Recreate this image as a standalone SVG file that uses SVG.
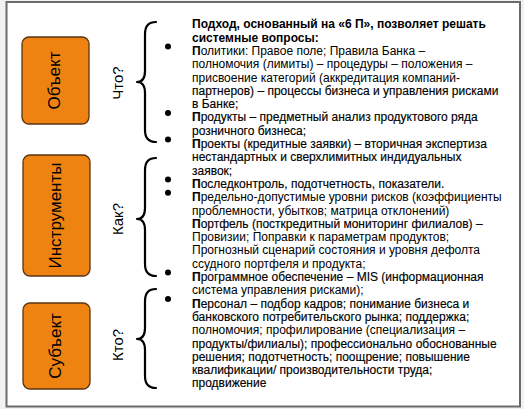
<svg xmlns="http://www.w3.org/2000/svg" width="524" height="409" viewBox="0 0 524 409">
<style>
.box{fill:#EF8312;stroke:#5a3510;stroke-width:1.3}
.bl{font-family:"Liberation Sans",Arial,sans-serif;font-size:17px;fill:#000;text-anchor:middle}
.q{font-family:"Liberation Sans",Arial,sans-serif;font-size:15px;fill:#000;text-anchor:middle}
.br{fill:none;stroke:#000;stroke-width:2.2;stroke-linecap:round;stroke-linejoin:round}
.t{font-family:"Liberation Sans",Arial,sans-serif;font-size:12px;fill:#000}
.h{stroke:#000;stroke-width:0.15}
.b{font-weight:bold}
.dot{fill:#000}
</style>
<rect x="0" y="0" width="524" height="409" fill="#f2f2f2"/>
<rect x="6.5" y="2" width="513.5" height="404.5" fill="#fff" stroke="#6a6a6a" stroke-width="2"/>

<g id="node-obekt">
<rect class="box" x="22" y="37" width="67" height="87" rx="7"/>
<text class="bl" transform="translate(60,80.5) rotate(-90)">Объект</text>
</g>
<g id="node-instrumenty">
<rect class="box" x="23" y="155" width="67" height="121" rx="7"/>
<text class="bl" transform="translate(61,215.5) rotate(-90)">Инструменты</text>
</g>
<g id="node-subekt">
<rect class="box" x="23" y="303" width="67" height="86" rx="7"/>
<text class="bl" transform="translate(61,346) rotate(-90)">Субъект</text>
</g>

<g id="questions">
<text class="q" transform="translate(123,83) rotate(-90)">Что?</text>
<text class="q" transform="translate(123,219) rotate(-90)">Как?</text>
<text class="q" transform="translate(123,345) rotate(-90)">Кто?</text>
</g>

<g id="connectors">
<path class="br" d="M156,22 C149,22 145,26 145,34 L145,71 C145,78 142,82 137,82 C142,82 145,86 145,93 L145,130 C145,138 149,142 156,142"/>
<path class="br" d="M156,158 C149,158 145,162 145,170 L145,208 C145,215 142,219 137,219 C142,219 145,223 145,230 L145,264 C145,272 149,276 156,276"/>
<path class="br" d="M156,289 C149,289 145,293 145,301 L145,328 C145,335 142,339 137,339 C142,339 145,343 145,350 L145,376 C145,384 149,388 156,388"/>
</g>

<g id="bullets">
<circle class="dot" cx="168" cy="46.5" r="3"/>
<circle class="dot" cx="168" cy="113" r="3"/>
<circle class="dot" cx="168" cy="139.5" r="3"/>
<circle class="dot" cx="168" cy="179.5" r="3"/>
<circle class="dot" cx="168" cy="192.8" r="3"/>
<circle class="dot" cx="168" cy="272.5" r="3"/>
<circle class="dot" cx="168" cy="299" r="3"/>
</g>

<g id="text-body" class="t">
<text x="192" y="28.3" class="b">Подход, основанный на «6 П», позволяет решать</text>
<text x="192" y="41.6" class="b">системные вопросы:</text>
<text x="192" y="54.9"><tspan class="b">П</tspan>олитики: Правое поле; Правила Банка –</text>
<text x="192" y="68.2">полномочия (лимиты) – процедуры – положения –</text>
<text x="192" y="81.5">присвоение категорий (аккредитация компаний-</text>
<text x="192" y="94.8" class="h">партнеров) – процессы бизнеса и управления рисками</text>
<text x="192" y="108.1" class="h">в Банке;</text>
<text x="192" y="121.4" class="h"><tspan class="b">П</tspan>родукты – предметный анализ продуктового ряда</text>
<text x="192" y="134.7" class="h">розничного бизнеса;</text>
<text x="192" y="148" class="h"><tspan class="b">П</tspan>роекты (кредитные заявки) – вторичная экспертиза</text>
<text x="192" y="161.3" class="h">нестандартных и сверхлимитных индидуальных</text>
<text x="192" y="174.6" class="h">заявок;</text>
<text x="192" y="187.9" class="h"><tspan class="b">П</tspan>оследконтроль, подотчетность, показатели.</text>
<text x="192" y="201.2"><tspan class="b">П</tspan>редельно-допустимые уровни рисков (коэффициенты</text>
<text x="192" y="214.5">проблемности, убытков; матрица отклонений)</text>
<text x="192" y="227.8" class="h"><tspan class="b">П</tspan>ортфель (посткредитный мониторинг филиалов) –</text>
<text x="192" y="241.1">Провизии; Поправки к параметрам продуктов;</text>
<text x="192" y="254.4">Прогнозный сценарий состояния и уровня дефолта</text>
<text x="192" y="267.7">ссудного портфеля и продукта;</text>
<text x="192" y="281" class="h"><tspan class="b">П</tspan>рограммное обеспечение – MIS (информационная</text>
<text x="192" y="294.3">система управления рисками);</text>
<text x="192" y="307.6" class="h"><tspan class="b">П</tspan>ерсонал – подбор кадров; понимание бизнеса и</text>
<text x="192" y="320.9" class="h">банковского потребительского рынка; поддержка;</text>
<text x="192" y="334.2">полномочия; профилирование (специализация –</text>
<text x="192" y="347.5" class="h">продукты/филиалы); профессионально обоснованные</text>
<text x="192" y="360.8" class="h">решения; подотчетность; поощрение; повышение</text>
<text x="192" y="374.1" class="h">квалификации/ производительности труда;</text>
<text x="192" y="387.4" class="h">продвижение</text>
</g>
</svg>
